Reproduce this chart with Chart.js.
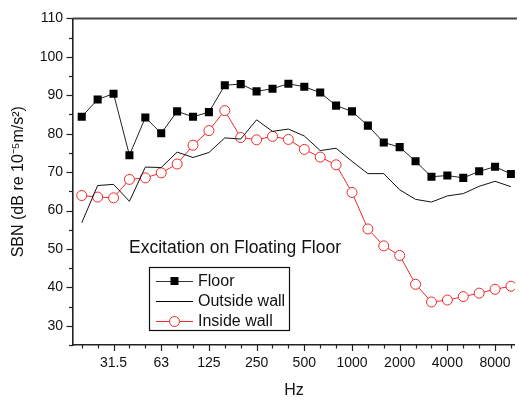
<!DOCTYPE html>
<html>
<head>
<meta charset="utf-8">
<script src="https://cdn.jsdelivr.net/npm/chart.js@4.4.1/dist/chart.umd.min.js"></script>
<style>
  html, body { margin: 0; padding: 0; background: #fff; overflow: hidden; }
</style>
</head>
<body>
<canvas id="chartSBN" width="521" height="400"></canvas>
<script>
// 1/3 octave bands (Hz)
const bands = ['20', '25', '31.5', '40', '50', '63', '80', '100', '125', '160', '200', '250', '315', '400',
  '500', '630', '800', '1000', '1250', '1600', '2000', '2500', '3150', '4000', '5000', '6300', '8000', '10000'];
const tickLabels = ['31.5', '63', '125', '250', '500', '1000', '2000', '4000', '8000'];

const floorLevel = [84.4, 88.9, 90.4, 74.4, 84.2, 80.1, 85.8, 84.4, 85.6, 92.6, 92.9, 91.0, 91.7, 93.0,
  92.2, 90.7, 87.3, 85.8, 82.1, 77.7, 76.5, 72.8, 68.8, 69.1, 68.5, 70.2, 71.4, 69.5];
const outsideWall = [56.8, 66.5, 66.8, 62.4, 71.3, 71.2, 75.2, 73.8, 75.1, 78.9, 78.6, 83.6, 80.6, 81.2,
  79.4, 75.6, 76.2, 72.8, 69.6, 69.6, 65.4, 62.9, 62.2, 63.8, 64.4, 66.3, 67.6, 66.2];
const insideWall = [63.9, 63.5, 63.3, 68.1, 68.5, 69.8, 72.1, 77.0, 80.8, 86.0, 79.0, 78.4, 79.3, 78.5,
  75.9, 73.9, 71.9, 64.7, 55.2, 50.8, 48.3, 40.8, 36.2, 36.7, 37.6, 38.5, 39.5, 40.3];

const seriesNames = ['Floor', 'Outside wall', 'Inside wall'];
const noteText = 'Excitation on Floating Floor';

const FONT = '"Liberation Sans", Arial, Helvetica, sans-serif';
const RED = '#ee2a2a';
Chart.defaults.font.family = FONT;
Chart.defaults.color = '#000';

const toPoints = arr => arr.map((v, i) => ({ x: i, y: v }));

// ticks, frame, note and boxed legend
const overlay = {
  id: 'overlay',
  afterDraw(chart) {
    const { ctx, chartArea: a, scales: { x, y } } = chart;
    ctx.save();
    ctx.strokeStyle = '#444';
    ctx.lineWidth = 2;
    ctx.beginPath();
    ctx.moveTo(a.left, a.top);
    ctx.lineTo(a.right + 2, a.top);
    ctx.stroke();

    ctx.strokeStyle = '#222';
    ctx.lineWidth = 1.2;
    bands.forEach((b, i) => {
      const px = Math.round(x.getPixelForValue(i)) + 0.5;
      const len = tickLabels.includes(b) ? 6 : 3.5;
      ctx.beginPath();
      ctx.moveTo(px, a.bottom);
      ctx.lineTo(px, a.bottom + len);
      ctx.stroke();
    });
    for (let v = 25; v <= 110; v += 5) {
      const py = Math.round(y.getPixelForValue(v)) + 0.5;
      const len = v % 10 === 0 ? 6.5 : 4;
      ctx.beginPath();
      ctx.moveTo(a.left, py);
      ctx.lineTo(a.left - len, py);
      ctx.stroke();
    }

    ctx.fillStyle = '#111';
    ctx.textBaseline = 'middle';
    ctx.font = '17.5px ' + FONT;
    ctx.fillText(noteText, a.left + 56, 248);

    // legend
    const lx = a.left + 76, ly = 267;
    ctx.strokeStyle = '#111';
    ctx.lineWidth = 1.2;
    ctx.strokeRect(lx + 0.5, ly + 0.5, 140, 63);
    ctx.font = '16px ' + FONT;
    const rows = [281, 301, 321];
    const colors = ['#333', '#000', RED];
    rows.forEach((ry, k) => {
      ctx.strokeStyle = colors[k];
      ctx.lineWidth = 1;
      ctx.beginPath();
      ctx.moveTo(lx + 7, ry + 0.5);
      ctx.lineTo(lx + 44, ry + 0.5);
      ctx.stroke();
      const cx = lx + 25.5;
      if (k === 0) {
        ctx.fillStyle = '#000';
        ctx.fillRect(cx - 4, ry - 4, 8, 8);
      } else if (k === 2) {
        ctx.fillStyle = '#fff';
        ctx.beginPath();
        ctx.arc(cx, ry + 0.5, 5, 0, Math.PI * 2);
        ctx.fill();
        ctx.stroke();
      }
      ctx.fillStyle = '#111';
      ctx.fillText(seriesNames[k], lx + 49, ry + 1);
    });
    ctx.restore();
  }
};

const ctx = document.getElementById('chartSBN');
new Chart(ctx, {
  type: 'line',
  data: {
    datasets: [
      {
        label: seriesNames[0],
        data: toPoints(floorLevel),
        borderColor: '#222',
        borderWidth: 1,
        pointStyle: 'rect',
        pointRadius: 5.7,
        pointBackgroundColor: '#000',
        pointBorderColor: '#000',
        pointBorderWidth: 0,
        tension: 0,
      },
      {
        label: seriesNames[1],
        data: toPoints(outsideWall),
        borderColor: '#111',
        borderWidth: 1,
        pointRadius: 0,
        tension: 0,
      },
      {
        label: seriesNames[2],
        data: toPoints(insideWall),
        borderColor: RED,
        borderWidth: 1,
        pointStyle: 'circle',
        pointRadius: 5,
        pointBackgroundColor: '#fff',
        pointBorderColor: RED,
        pointBorderWidth: 1,
        tension: 0,
      },
    ],
  },
  options: {
    responsive: false,
    animation: false,
    events: [],
    layout: { padding: { top: 15, right: 0, bottom: 0, left: 0 } },
    plugins: {
      legend: { display: false },
      tooltip: { enabled: false },
    },
    scales: {
      x: {
        type: 'linear',
        min: -0.55,
        max: 27.25,
        afterFit: s => { s.height = 55; },
        grid: { display: false, drawTicks: false },
        border: { display: true, color: '#222', width: 1.6 },
        ticks: {
          stepSize: 1,
          includeBounds: false,
          autoSkip: false,
          maxRotation: 0,
          padding: 10,
          color: '#111',
          font: { size: 14 },
          callback: v => (tickLabels.includes(bands[v]) ? bands[v] : ''),
        },
        title: {
          display: true,
          text: 'Hz',
          color: '#111',
          font: { size: 16 },
          padding: { top: 0, bottom: 0 },
        },
      },
      y: {
        min: 25,
        max: 110,
        afterFit: s => { s.width = 73; },
        grid: { display: false, drawTicks: false },
        border: { display: true, color: '#222', width: 1.6 },
        ticks: {
          stepSize: 5,
          autoSkip: false,
          padding: 10,
          color: '#111',
          font: { size: 14 },
          callback: v => (v % 10 === 0 && v >= 30 ? v : ''),
        },
        title: {
          display: true,
          text: 'SBN (dB re 10⁻⁵m/s²)',
          color: '#111',
          font: { size: 16 },
          padding: { top: 8.5, bottom: 0 },
        },
      },
    },
  },
  plugins: [overlay],
});
</script>
</body>
</html>
